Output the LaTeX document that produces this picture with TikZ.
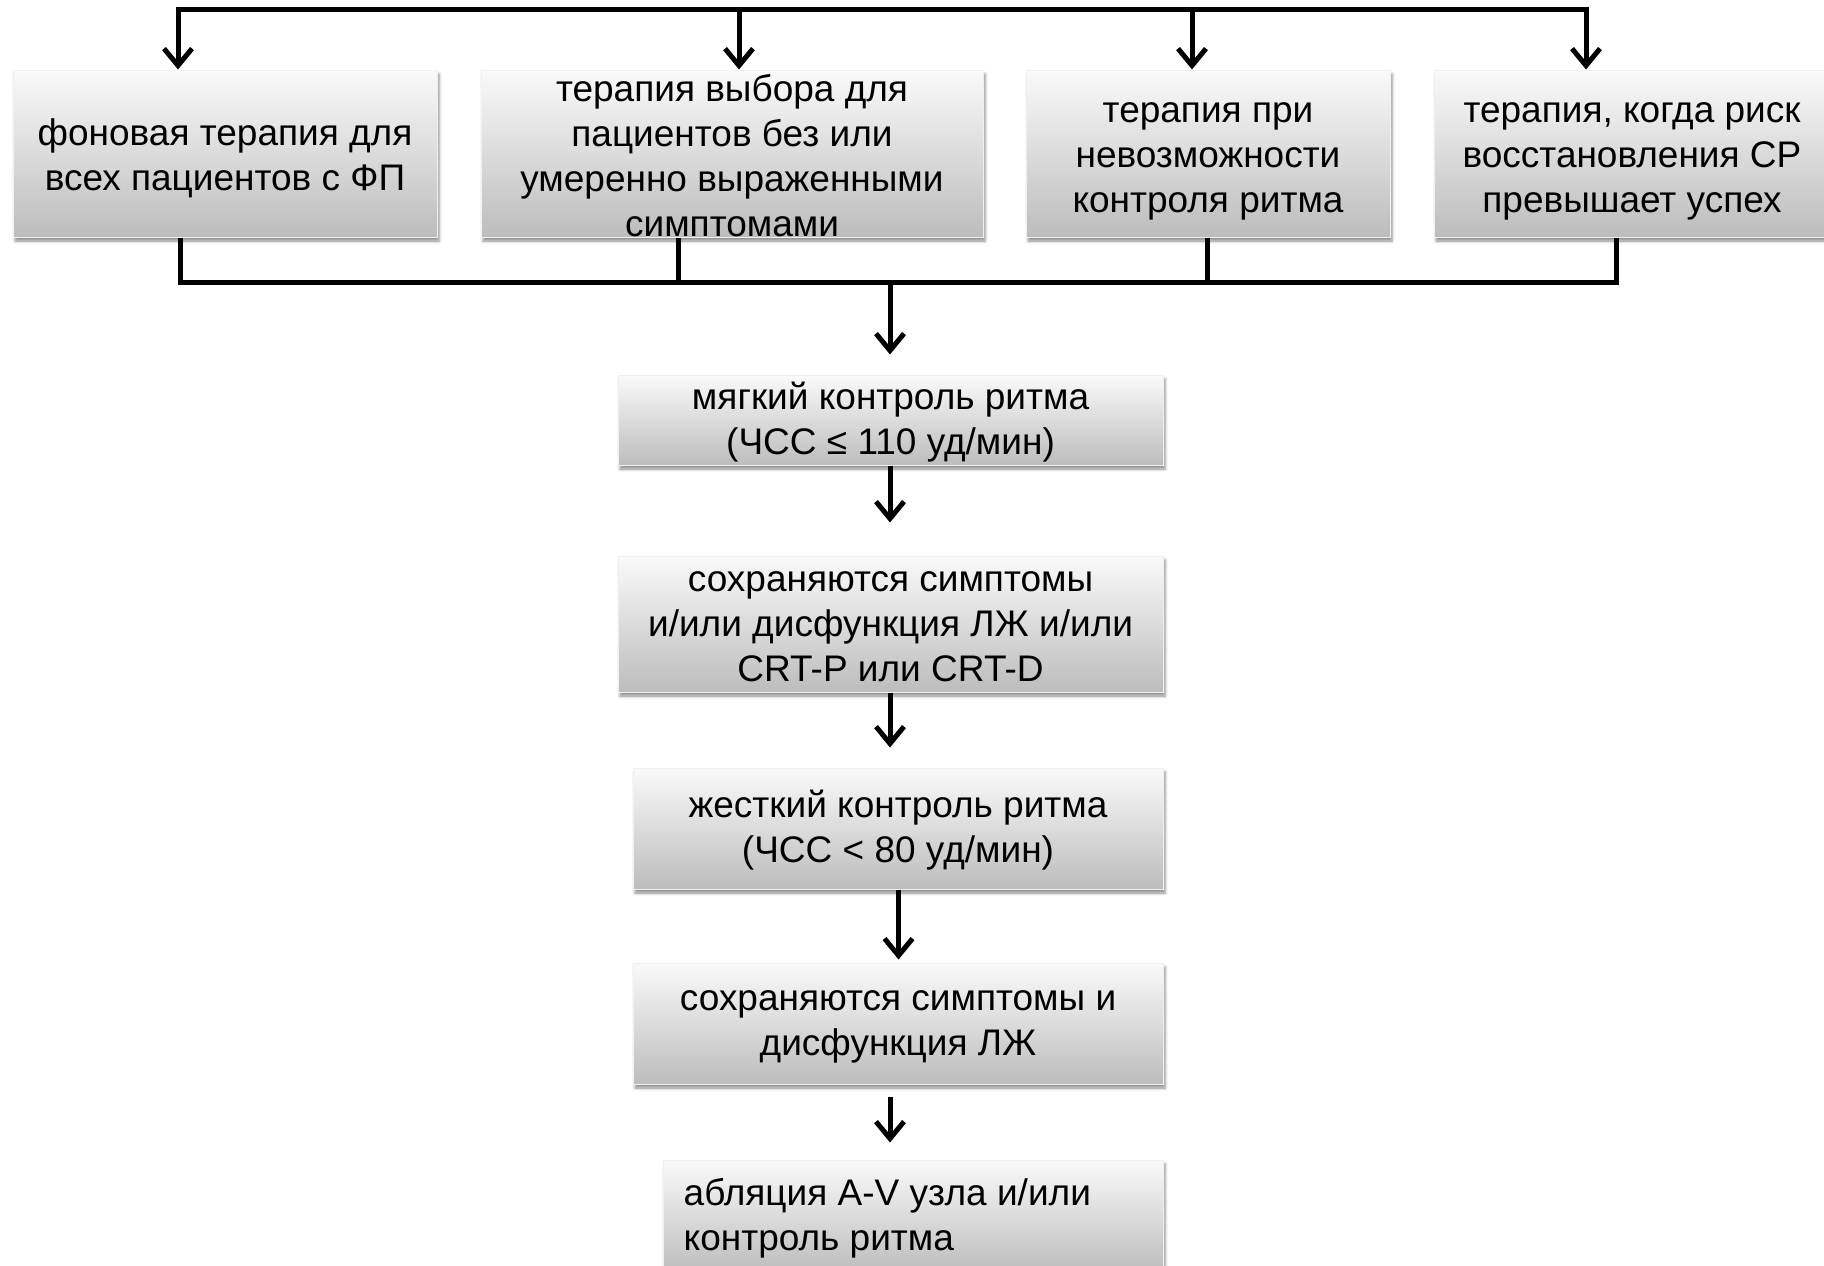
\documentclass[tikz,border=0pt]{standalone}
\usepackage{fontspec}
\setmainfont{Liberation Sans}
\usetikzlibrary{arrows.meta,shadows.blur}

\tikzset{
  box/.style={
    rectangle, inner sep=0pt,
    top color=black!2, bottom color=black!26,
    draw=black!6, line width=1pt,
    blur shadow={shadow xshift=2pt, shadow yshift=-4pt,
                 shadow blur radius=3pt, shadow opacity=45}
  },
  txt/.style={inner sep=0pt, align=center,
    font=\fontsize{37}{45}\selectfont},
  conn/.style={line width=5pt, line join=miter, black},
  barb/.tip={Straight Barb[length=17pt,width=28pt]},
  arr/.style={conn, -barb},
  arr2/.style={conn, barb-barb}
}

\begin{document}
\begin{tikzpicture}[x=1pt,y=-1pt]
\useasboundingbox (0,0) rectangle (1824,1266);
\clip (0,0) rectangle (1824,1266);

% top row of therapy groups
\node[box, minimum width=424, minimum height=167] (b1) at (225,153.5) {};
\node[txt] (b1t) at ([yshift=-5pt]b1.center)
  {фоновая терапия для\\всех пациентов с ФП};
\node[box, minimum width=502, minimum height=167] (b2) at (732,153.5) {};
\node[txt] (b2t) at ([yshift=-2pt]b2.center)
  {терапия выбора для\\пациентов без или\\умеренно выраженными\\симптомами};
\node[box, minimum width=364, minimum height=167] (b3) at (1208,153.5) {};
\node[txt] (b3t) at ([yshift=-8pt]b3.center)
  {терапия при\\невозможности\\контроля ритма};
\node[box, minimum width=396, minimum height=167] (b4) at (1632,153.5) {};
\node[txt] (b4t) at ([yshift=-8pt]b4.center)
  {терапия, когда риск\\восстановления СР\\превышает успех};

% rate control steps
\node[box, minimum width=545, minimum height=90] (b5) at (890.5,420) {};
\node[txt] (b5t) at ([yshift=-2pt]b5.center)
  {мягкий контроль ритма\\(ЧСС ≤ 110 уд/мин)};
\node[box, minimum width=545, minimum height=136] (b6) at (890.5,624) {};
\node[txt] (b6t) at ([yshift=-3pt]b6.center)
  {сохраняются симптомы\\и/или дисфункция ЛЖ и/или\\CRT-P или CRT-D};
\node[box, minimum width=530, minimum height=121] (b7) at (898,828.5) {};
\node[txt] (b7t) at ([yshift=-2pt]b7.center)
  {жесткий контроль ритма\\(ЧСС < 80 уд/мин)};
\node[box, minimum width=530, minimum height=121] (b8) at (898,1023.5) {};
\node[txt] (b8t) at ([yshift=-3pt]b8.center)
  {сохраняются симптомы и\\дисфункция ЛЖ};
\node[box, minimum width=500, minimum height=112] (b9) at (913,1216) {};
\node[txt, align=left, anchor=west] (b9t) at ([xshift=21pt,yshift=-2pt]b9.west)
  {абляция A-V узла и/или\\контроль ритма};

% top distribution bus
\coordinate (tL) at (178,9);
\coordinate (tR) at (1586,9);
\coordinate (t2) at (739,9);
\coordinate (t3) at (1192,9);
\draw[arr2] (tL |- b1.north) -- (tL) -- (tR) -- (tR |- b4.north);
\draw[arr] (t2) -- (t2 |- b2.north);
\draw[arr] (t3) -- (t3 |- b3.north);

% bottom collecting bus
\coordinate (m1) at (180,282);
\coordinate (m2) at (678,282);
\coordinate (m3) at (1207,282);
\coordinate (m4) at (1616,282);
\coordinate (mc) at (890,282);
\draw[conn] (m1 |- b1.south) -- (m1) -- (m4) -- (m4 |- b4.south);
\draw[conn] (m2 |- b2.south) -- (m2);
\draw[conn] (m3 |- b3.south) -- (m3);
\draw[arr, shorten >=20pt] (mc) -- (mc |- b5.north);

% vertical chain
\draw[arr, shorten >=33pt] (b5.south -| mc) -- (b6.north -| mc);
\draw[arr, shorten >=20pt] (b6.south -| mc) -- (b7.north -| mc);
\draw[arr, shorten >=3pt] ([xshift=0.5pt]b7.south) -- ([xshift=0.5pt]b8.north);
\draw[arr, shorten <=12pt, shorten >=17pt] (b8.south -| mc) -- (b9.north -| mc);
\end{tikzpicture}
\end{document}
